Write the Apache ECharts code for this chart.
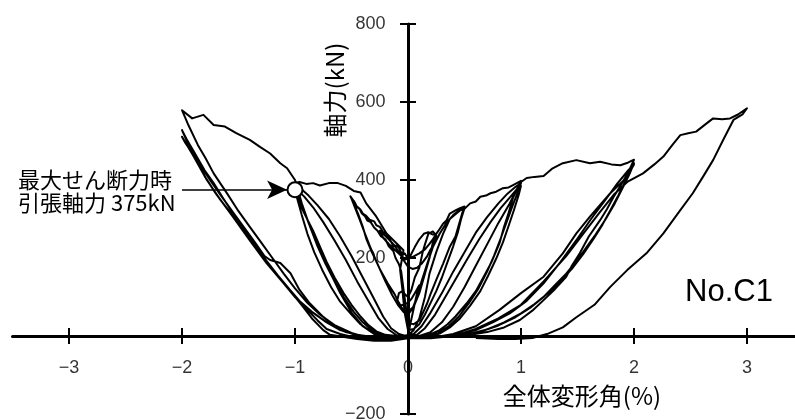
<!DOCTYPE html>
<html>
<head>
<meta charset="utf-8">
<script src="https://cdn.jsdelivr.net/npm/echarts@6/dist/echarts.min.js"></script>
<style>
  html, body { margin: 0; padding: 0; background: #fff; }
  #chart { width: 795px; height: 420px; }
</style>
</head>
<body>
<div id="chart"></div>
<script>
// Axial force (kN) vs. overall drift angle (%), specimen No.C1.
// Loading history, one array per cycle amplitude: [drift %, axial force kN]
const cycleSmall = [
  [0,0],[0.02,30],[0.05,70],[0.08,110],[0.1,130],[0.07,115],[0.03,95],[0,85],[-0.04,80],[-0.07,78],
  [-0.1,85],[-0.08,110],[-0.05,115],[-0.02,105],[0,100],[0.03,118],[0.06,150],[0.1,175],[0.13,215],
  [0.15,235],[0.18,262],[0.22,268],[0.25,258],[0.24,240],[0.2,222],[0.17,205],[0.12,185],[0.08,175],
  [0.04,172],[0,178],[-0.04,195],[-0.08,215],[-0.12,232],[-0.17,248],[-0.22,262],[-0.25,270],
  [-0.22,252],[-0.17,236],[-0.12,222],[-0.06,206],[-0.02,196],[0.02,205],[0.06,228],[0.1,248],
  [0.14,262],[0.18,266],[0.22,260],[0.25,262],[0.22,248],[0.19,236],[0.15,222],[0.1,212],[0.05,204],[0,198]
];
const cycleHalfA = [
  [0,198],[-0.03,212],[-0.05,208],[-0.08,226],[-0.1,232],[-0.13,230],[-0.15,242],[-0.19,262],
  [-0.22,266],[-0.25,280],[-0.28,284],[-0.3,294],[-0.34,298],[-0.37,308],[-0.4,314],[-0.42,324],
  [-0.45,330],[-0.47,342],[-0.51,358],[-0.48,340],[-0.44,312],[-0.4,280],[-0.37,250],[-0.32,215],
  [-0.25,172],[-0.18,135],[-0.12,108],[-0.08,85],[-0.05,70],[0,62],[0.05,75],[0.1,110],[0.15,160],
  [0.19,200],[0.22,240],[0.25,262],[0.27,270],[0.31,288],[0.34,296],[0.37,314],[0.42,322],
  [0.46,328],[0.5,332],[0.48,315],[0.45,285],[0.42,255],[0.37,229],[0.31,185],[0.25,144],[0.2,108],
  [0.17,84],[0.13,58],[0.1,40],[0.05,30],[0,35]
];
const cycleHalfB = [
  [0,35],[-0.04,120],[-0.06,165],[-0.08,184],[-0.11,200],[-0.13,218],[-0.17,230],[-0.2,248],
  [-0.24,256],[-0.27,270],[-0.3,278],[-0.33,292],[-0.36,296],[-0.38,307],[-0.41,315],[-0.43,327],
  [-0.46,334],[-0.48,347],[-0.5,352],[-0.47,330],[-0.43,300],[-0.38,262],[-0.33,225],[-0.27,185],
  [-0.2,140],[-0.14,105],[-0.09,80],[-0.04,62],[0,55],[0.04,70],[0.08,100],[0.12,140],[0.17,185],
  [0.22,228],[0.28,262],[0.34,290],[0.4,310],[0.45,322],[0.5,328],[0.47,300],[0.44,265],[0.4,230],
  [0.35,190],[0.3,150],[0.25,115],[0.2,85],[0.15,55],[0.1,30],[0.05,18],[0,15]
];
const cycleOneA = [
  [0,15],[-0.03,60],[-0.05,120],[-0.07,170],[-0.04,220],[-0.1,237],[-0.19,263],[-0.28,306],[-0.37,340],
  [-0.42,368],[-0.48,372],[-0.55,385],[-0.62,392],[-0.7,392],[-0.78,386],[-0.84,392],[-0.9,390],
  [-0.96,395],[-1.0,392],[-0.98,372],[-0.96,340],[-0.91,310],[-0.84,270],[-0.78,230],[-0.72,190],
  [-0.65,150],[-0.57,110],[-0.5,80],[-0.42,50],[-0.35,28],[-0.28,12],[-0.2,3],[-0.1,0],[0,2],
  [0.05,15],[0.1,45],[0.15,100],[0.19,160],[0.25,215],[0.31,262],[0.37,300],[0.42,312],[0.46,322],
  [0.5,326],[0.55,340],[0.6,345],[0.64,357],[0.69,360],[0.73,366],[0.78,370],[0.84,379],[0.89,381],
  [0.93,387],[1.0,398],[0.97,380],[0.93,355],[0.89,315],[0.85,280],
  [0.81,238],[0.74,190],[0.67,152],[0.6,115],[0.52,84],[0.42,50],[0.35,30],[0.28,15],[0.2,5],
  [0.14,0],[0.05,-3],[0,-2]
];
const cycleOneB = [
  [0,-2],[-0.08,5],[-0.15,20],[-0.22,50],[-0.3,95],[-0.4,150],[-0.5,205],[-0.6,255],[-0.7,300],
  [-0.8,335],[-0.88,360],[-0.95,378],[-1.0,385],[-0.97,360],[-0.92,320],[-0.86,275],[-0.8,230],
  [-0.73,185],[-0.65,140],[-0.57,100],[-0.48,62],[-0.4,35],[-0.32,15],[-0.24,4],[-0.15,0],[-0.05,0],
  [0.05,5],[0.12,25],[0.2,60],[0.3,110],[0.4,165],[0.5,215],[0.6,265],[0.7,305],[0.8,340],[0.88,365],
  [0.95,382],[1.0,392],[0.97,368],[0.92,330],[0.87,290],[0.82,250],[0.76,205],[0.7,165],[0.62,120],
  [0.54,85],[0.45,50],[0.36,25],[0.27,8],[0.18,0],[0.08,-3],[0,-3]
];
const cycleOneC = [
  [0,-3],[-0.1,2],[-0.18,18],[-0.26,45],[-0.35,90],[-0.45,140],[-0.55,195],[-0.65,245],[-0.75,292],
  [-0.84,330],[-0.92,358],[-0.97,372],[-1.0,380],[-0.98,352],[-0.94,310],[-0.89,262],[-0.83,215],
  [-0.76,170],[-0.68,125],[-0.6,88],[-0.5,55],[-0.42,30],[-0.33,12],[-0.25,2],[-0.12,-2],[0,-2],
  [0.08,3],[0.15,20],[0.24,55],[0.33,100],[0.43,150],[0.53,200],[0.63,248],[0.73,292],[0.82,328],
  [0.9,355],[0.96,375],[1.0,385],[0.98,362],[0.94,325],[0.89,282],[0.84,240],[0.78,198],[0.71,155],
  [0.64,115],[0.55,78],[0.46,45],[0.37,22],[0.28,6],[0.18,-2],[0.08,-4],[0,-3]
];
const cycleTwoA = [
  [0,-3],[0.1,0],[0.2,10],[0.3,35],[0.4,75],[0.5,125],[0.6,180],[0.7,235],[0.8,290],[0.9,340],
  [0.97,380],[1.0,395],[1.05,405],[1.12,408],[1.2,410],[1.28,430],[1.37,443],[1.49,451],[1.61,443],
  [1.7,447],[1.8,440],[1.88,438],[1.95,445],[2.0,452],[1.95,420],[1.88,385],[1.82,357],[1.76,325],
  [1.7,297],[1.6,255],[1.52,212],[1.45,180],[1.4,152],[1.3,120],[1.2,92],[1.1,65],[0.99,41],
  [0.85,22],[0.7,10],[0.55,3],[0.4,0],[0.2,-3],[0,-5],
  [-0.1,-8],[-0.2,-5],[-0.3,5],[-0.4,25],[-0.5,60],[-0.6,110],[-0.7,170],[-0.8,235],[-0.88,290],
  [-0.94,340],[-0.98,380],[-1.0,400],[-1.07,430],[-1.13,443],[-1.22,468],[-1.31,485],[-1.4,503],
  [-1.52,520],[-1.62,537],[-1.72,541],[-1.81,567],[-1.91,558],[-2.0,579],[-1.95,545],[-1.86,490],
  [-1.79,455],[-1.72,417],[-1.6,365],[-1.5,320],[-1.4,280],[-1.3,240],[-1.2,200],[-1.1,160],
  [-1.0,122],[-0.9,88],[-0.78,55],[-0.65,28],[-0.5,8],[-0.35,-5],[-0.2,-10],[-0.1,-8],[0,-5]
];
const cycleTwoB = [
  [0,-5],[0.2,-5],[0.4,5],[0.6,25],[0.81,67],[1.0,110],[1.2,152],[1.37,212],[1.49,263],[1.61,306],
  [1.79,366],[1.94,408],[2.0,443],[1.96,415],[1.9,380],[1.83,340],[1.75,300],[1.66,260],[1.58,228],
  [1.5,195],[1.4,160],[1.3,130],[1.2,100],[1.08,72],[0.95,48],[0.8,27],[0.65,12],[0.5,3],[0.35,-2],
  [0.2,-4],[0,-6],
  [-0.15,-12],[-0.3,-12],[-0.45,-8],[-0.58,-2],[-0.69,3],[-0.75,15],[-0.85,45],[-0.93,75],
  [-1.07,126],[-1.22,178],[-1.37,238],[-1.52,297],[-1.66,349],[-1.78,400],[-1.88,455],[-1.95,495],
  [-2.0,528],[-1.96,505],[-1.87,460],[-1.8,425],[-1.72,392],[-1.64,355],[-1.55,315],[-1.45,272],
  [-1.35,232],[-1.25,192],[-1.15,155],[-1.05,120],[-0.96,90],[-0.85,62],[-0.72,35],[-0.6,15],
  [-0.45,2],[-0.3,-5],[-0.15,-8],[0,-6]
];
const cycleTwoC = [
  [0,-6],[0.2,-6],[0.4,0],[0.6,15],[0.75,35],[0.9,58],[1.05,90],[1.2,135],[1.35,190],[1.5,250],
  [1.62,300],[1.75,350],[1.85,390],[1.95,425],[2.0,440],[1.97,425],[1.92,395],[1.86,360],[1.79,322],
  [1.72,285],[1.64,248],[1.55,210],[1.45,172],[1.35,140],[1.25,112],[1.12,82],[1.0,58],[0.85,35],
  [0.7,17],[0.55,6],[0.4,0],[0.2,-4],[0,-6],
  [-0.15,-10],[-0.3,-10],[-0.45,-5],[-0.6,5],[-0.72,18],[-0.8,40],[-0.9,70],[-1.0,100],[-1.1,135],
  [-1.25,186],[-1.4,245],[-1.55,306],[-1.7,365],[-1.8,410],[-1.9,462],[-2.0,511],[-1.97,495],
  [-1.9,465],[-1.82,430],[-1.74,395],[-1.65,358],[-1.55,318],[-1.45,278],[-1.35,238],[-1.27,205],
  [-1.22,195],[-1.13,187],[-1.04,161],[-0.96,118],[-0.87,84],[-0.75,49],[-0.65,25],[-0.55,10],
  [-0.45,3],[-0.3,-3],[-0.15,-6],[0,-5]
];
const cycleThree = [
  [0,-5],[0.2,-5],[0.4,0],[0.6,18],[0.8,45],[1.0,80],[1.2,140],[1.4,205],[1.55,262],[1.7,318],
  [1.82,362],[1.94,395],[2.08,417],[2.18,440],[2.26,460],[2.34,490],[2.41,515],[2.48,520],[2.55,524],
  [2.62,540],[2.7,558],[2.78,556],[2.85,558],[2.92,568],[3.0,584],[2.96,568],[2.88,554],[2.79,503],
  [2.7,451],[2.61,408],[2.52,366],[2.41,323],[2.26,263],[2.11,212],[1.94,169],[1.79,126],[1.65,80],
  [1.49,48],[1.37,22],[1.23,5],[1.1,-5],[0.95,-8],[0.8,-8],[0.6,-5]
];
const loadingHistory = [cycleSmall, cycleHalfA, cycleHalfB, cycleOneA, cycleOneB, cycleOneC,
  cycleTwoA, cycleTwoB, cycleTwoC, cycleThree];

// Point of maximum shear force, tension side
const maxShearPoint = [-1.0, 375];
const calloutStart = [-2.0, 375];
const calloutLines = ['最大せん断力時', '引張軸力 375kN'];

// Axis ticks and tick labels
const xTicks = [-3, -2, -1, 1, 2, 3];
const xLabels = [-3, -2, -1, 0, 1, 2, 3];
const yLabels = [-200, 200, 400, 600, 800];
const yMin = -200, yMax = 800, yStep = 200;
const xMin = -3.5, xMax = 3.5;

const path = [];
loadingHistory.forEach((c, i) => {
  c.forEach((p, j) => { if (i === 0 || j > 0) path.push(p); });
});

const minus = v => (v < 0 ? '\u2212' + (-v) : String(v));
const numFont = 'Liberation Sans, Arial, sans-serif';
const jpFont = '"Noto Sans CJK JP", sans-serif';

// Tick labels ride on the axes crossing at the origin
const labelSeries = (points, position, distance, pick) => ({
  type: 'scatter', data: points, xAxisIndex: 0, yAxisIndex: 0,
  symbolSize: 1, itemStyle: { color: 'rgba(0,0,0,0)' }, silent: true, z: 1,
  label: {
    show: true, position, distance, color: '#000', fontSize: 18, fontFamily: numFont,
    formatter: p => minus(p.value[pick])
  }
});

const chart = echarts.init(document.getElementById('chart'), null, { renderer: 'canvas' });
chart.setOption({
  animation: false,
  backgroundColor: '#fff',
  grid: { left: 12.5, right: -8.5, top: 24, bottom: 6, containLabel: false, outerBoundsMode: 'none' },
  xAxis: [
    {
      type: 'value', min: xMin, max: xMax,
      axisLine: { show: true, onZero: true, onZeroAxisIndex: 0, lineStyle: { color: '#000', width: 3 } },
      axisTick: { show: true, inside: false, length: 8, customValues: xTicks, lineStyle: { color: '#000', width: 2 } },
      axisLabel: { show: false },
      splitLine: { show: false }
    },
    {
      type: 'value', min: xMin, max: xMax, position: 'bottom',
      axisLine: { show: false, onZero: true, onZeroAxisIndex: 0 },
      axisTick: { show: true, inside: true, length: 8, customValues: xTicks, lineStyle: { color: '#000', width: 2 } },
      axisLabel: { show: false },
      splitLine: { show: false }
    }
  ],
  yAxis: [
    {
      type: 'value', min: yMin, max: yMax, interval: yStep,
      axisLine: { show: true, onZero: true, onZeroAxisIndex: 0, lineStyle: { color: '#000', width: 3 } },
      axisTick: { show: true, inside: false, length: 8, lineStyle: { color: '#000', width: 2 } },
      axisLabel: { show: false },
      splitLine: { show: false }
    },
    {
      type: 'value', min: yMin, max: yMax, interval: yStep, position: 'left',
      axisLine: { show: false, onZero: true, onZeroAxisIndex: 0 },
      axisTick: { show: true, inside: true, length: 8, lineStyle: { color: '#000', width: 2 } },
      axisLabel: { show: false },
      splitLine: { show: false }
    }
  ],
  series: [
    labelSeries(xLabels.map(v => [v, 0]), 'bottom', 23, 0),
    labelSeries(yLabels.map(v => [0, v]), 'left', 22, 1),
    {
      type: 'line', data: path, xAxisIndex: 0, yAxisIndex: 0,
      showSymbol: false, symbol: 'none', clip: false,
      lineStyle: { color: '#000', width: 2, join: 'round' },
      z: 3
    },
    {
      type: 'scatter', data: [maxShearPoint], xAxisIndex: 0, yAxisIndex: 0,
      symbol: 'circle', symbolSize: 15,
      itemStyle: { color: '#fff', borderColor: '#000', borderWidth: 2, opacity: 1 },
      z: 5,
      markLine: {
        silent: true, animation: false,
        symbol: ['none', 'arrow'], symbolSize: [14, 20],
        label: { show: false },
        lineStyle: { color: '#000', width: 1.5, type: 'solid' },
        data: [[{ coord: calloutStart }, { coord: [maxShearPoint[0] - 0.07, maxShearPoint[1]] }]]
      }
    }
  ],
  graphic: [
    { type: 'text', left: 18, top: 169, style: { text: calloutLines[0], font: '22px ' + jpFont, fill: '#000' } },
    { type: 'text', left: 18, top: 192, style: { text: calloutLines[1], font: '22px ' + jpFont, fill: '#000' } },
    { type: 'text', x: 582, y: 396, style: { text: '全体変形角(%)', font: '24px ' + jpFont, fill: '#000', align: 'center', verticalAlign: 'middle' } },
    { type: 'text', x: 335, y: 90, rotation: Math.PI / 2, style: { text: '軸力(kN)', font: '24px ' + jpFont, fill: '#000', align: 'center', verticalAlign: 'middle' } },
    { type: 'text', x: 729, y: 292, style: { text: 'No.C1', font: '31px ' + numFont, fill: '#000', align: 'center', verticalAlign: 'middle' } }
  ]
});
</script>
</body>
</html>
